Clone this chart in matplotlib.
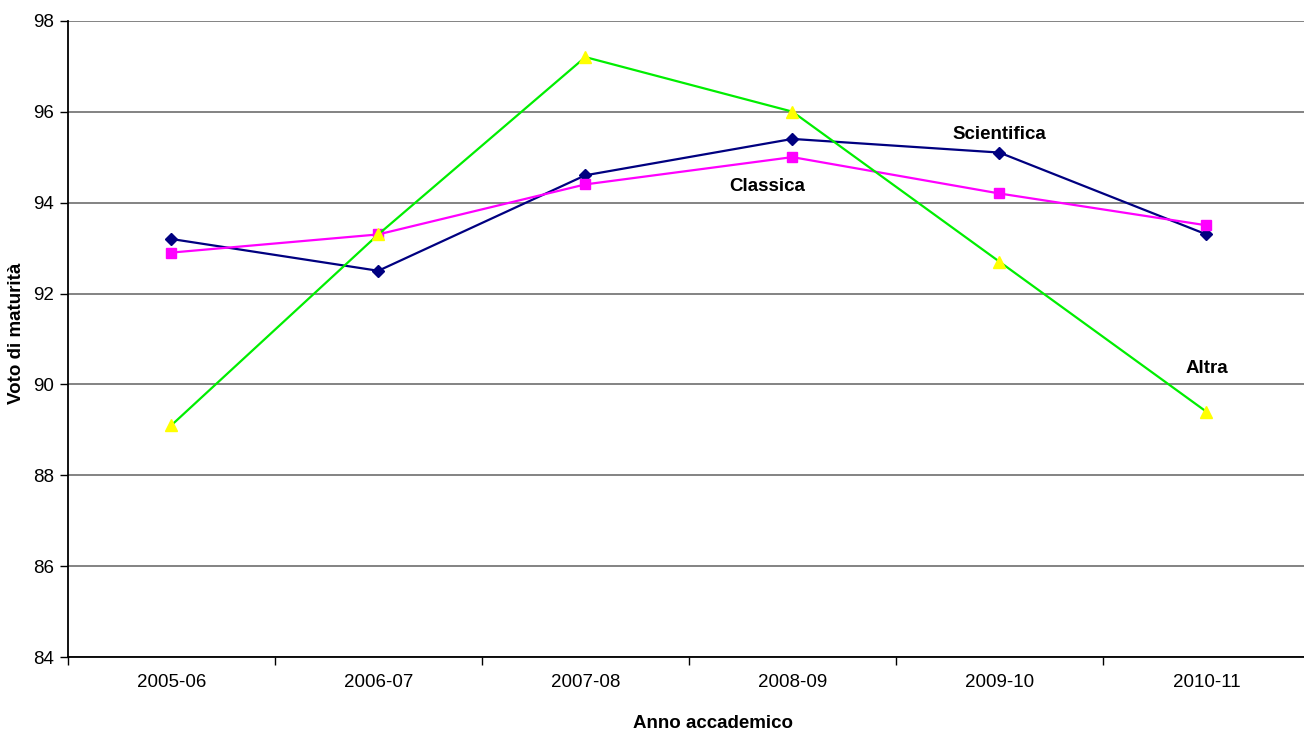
import matplotlib
matplotlib.use("Agg")
import matplotlib.pyplot as plt
import numpy as np

anni = ["2005-06", "2006-07", "2007-08", "2008-09", "2009-10", "2010-11"]
scientifica = [93.2, 92.5, 94.6, 95.4, 95.1, 93.3]
classica = [92.9, 93.3, 94.4, 95.0, 94.2, 93.5]
altra = [89.1, 93.3, 97.2, 96.0, 92.7, 89.4]
y_ticks = [84, 86, 88, 90, 92, 94, 96, 98]

plt.rcParams['font.family'] = ['Liberation Sans', 'DejaVu Sans']

fig = plt.figure(figsize=(13.04, 7.33), dpi=100)
ax = fig.add_axes([67.7/1304, 1 - 657.3/733, (1310 - 67.7)/1304, (657.3 - 20.7)/733])

x = np.arange(len(anni))
ax.plot(x, scientifica, color='#000080', lw=1.6, marker='D', ms=6.5,
        mfc='#000080', mec='#000080', zorder=3)
ax.plot(x, classica, color='#FF00FF', lw=1.6, marker='s', ms=7.5,
        mfc='#FF00FF', mec='#FF00FF', zorder=3)
ax.plot(x, altra, color='#00EE00', lw=1.6, marker='^', ms=8,
        mfc='#FFFF00', mec='#FFFF00', zorder=3)

ax.set_xlim(-0.5, len(anni) - 0.5)
ax.set_ylim(84, 98)
ax.set_yticks(y_ticks)
ax.set_yticklabels([str(v) for v in y_ticks], fontsize=13.5)
ax.yaxis.grid(True, color='#7a7a7a', lw=1.3)
ax.set_axisbelow(True)

ax.set_xticks(x)
ax.set_xticklabels(anni, fontsize=13.5)
ax.tick_params(axis='x', which='major', length=0, pad=12)
ax.set_xticks(np.arange(-0.5, len(anni)), minor=True)
ax.tick_params(axis='x', which='minor', length=6, width=1, direction='out')
ax.tick_params(axis='y', length=6, width=1, direction='out', pad=4)

for s in ['top', 'right']:
    ax.spines[s].set_visible(False)
ax.spines['left'].set_color('black')
ax.spines['bottom'].set_color('black')
ax.spines['left'].set_linewidth(1.3)
ax.spines['bottom'].set_linewidth(1.3)

ax.text(4.0, 95.5, "Scientifica", fontsize=13.5, fontweight='bold', ha='center', va='center')
ax.text(2.88, 94.35, "Classica", fontsize=13.5, fontweight='bold', ha='center', va='center')
ax.text(5.0, 90.35, "Altra", fontsize=13.5, fontweight='bold', ha='center', va='center')

fig.text(713/1304, 1 - 724/733, "Anno accademico", fontsize=13.5, fontweight='bold',
         ha='center', va='center')
fig.text(17/1304, 1 - 333/733, "Voto di maturità", fontsize=13.5, fontweight='bold',
         ha='center', va='center', rotation=90)

fig.savefig("out.png", dpi=100)
